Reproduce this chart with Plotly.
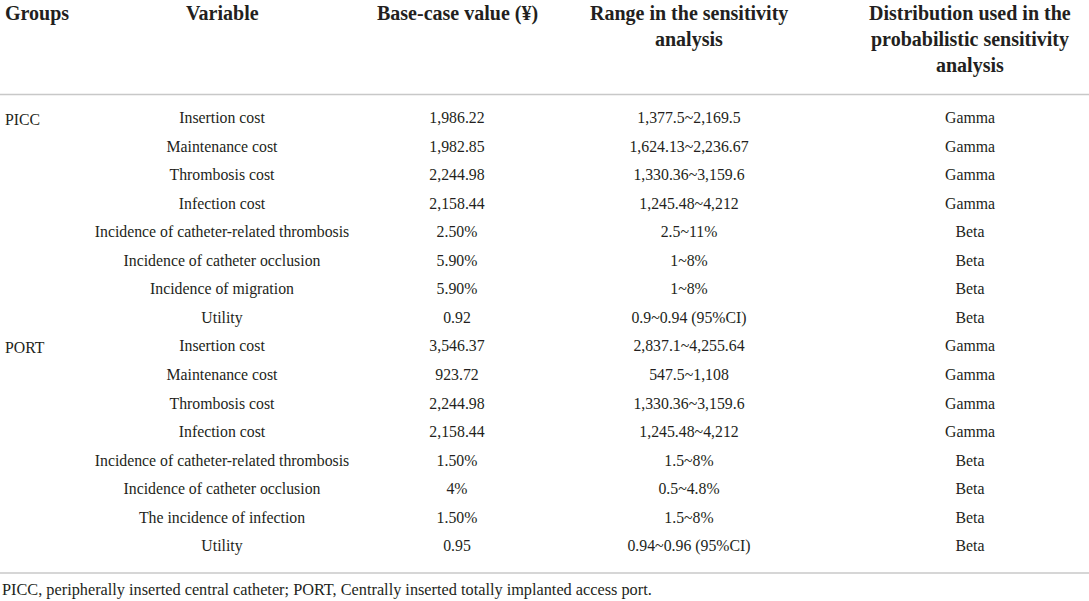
import plotly.graph_objects as go

# table content
header_groups = ["Groups"]
header_variable = ["Variable"]
header_base = ["Base-case value (¥)"]
header_range = ["Range in the sensitivity", "analysis"]
header_dist = ["Distribution used in the", "probabilistic sensitivity", "analysis"]

groups = ["PICC", "", "", "", "", "", "", "",
          "PORT", "", "", "", "", "", "", ""]
variables = [
    "Insertion cost", "Maintenance cost", "Thrombosis cost", "Infection cost",
    "Incidence of catheter-related thrombosis", "Incidence of catheter occlusion",
    "Incidence of migration", "Utility",
    "Insertion cost", "Maintenance cost", "Thrombosis cost", "Infection cost",
    "Incidence of catheter-related thrombosis", "Incidence of catheter occlusion",
    "The incidence of infection", "Utility",
]
base_values = [
    "1,986.22", "1,982.85", "2,244.98", "2,158.44", "2.50%", "5.90%", "5.90%", "0.92",
    "3,546.37", "923.72", "2,244.98", "2,158.44", "1.50%", "4%", "1.50%", "0.95",
]
ranges = [
    "1,377.5~2,169.5", "1,624.13~2,236.67", "1,330.36~3,159.6", "1,245.48~4,212",
    "2.5~11%", "1~8%", "1~8%", "0.9~0.94 (95%CI)",
    "2,837.1~4,255.64", "547.5~1,108", "1,330.36~3,159.6", "1,245.48~4,212",
    "1.5~8%", "0.5~4.8%", "1.5~8%", "0.94~0.96 (95%CI)",
]
distributions = ["Gamma"] * 4 + ["Beta"] * 4 + ["Gamma"] * 4 + ["Beta"] * 4

footnote = ("PICC, peripherally inserted central catheter; "
            "PORT, Centrally inserted totally implanted access port.")

# layout (pixel coordinates on hidden axes)
W, H = 1089, 601
FONT = "Liberation Serif"
TXT = "#231f20"
col_x = {"variable": 222, "base": 457, "range": 689, "dist": 970}
group_x = 3
row_top, row_h = 119, 28.57
head_top, head_h = 13, 26
rows_y = [row_top + i * row_h for i in range(len(variables))]

fig = go.Figure()

body_cols = [("variable", variables), ("base", base_values),
             ("range", ranges), ("dist", distributions)]
for key, vals in body_cols:
    fig.add_trace(go.Scatter(
        x=[col_x[key]] * len(vals), y=rows_y, text=vals,
        mode="text", textposition="middle center",
        textfont=dict(family=FONT, size=15.8, color=TXT),
        hoverinfo="skip", showlegend=False,
    ))

annotations = []
for g, y in zip(groups, rows_y):
    if g:
        annotations.append(dict(x=group_x, y=y, text=g, xanchor="left",
                                yanchor="middle", showarrow=False,
                                font=dict(family=FONT, size=15.8, color=TXT)))

headers = [(group_x, "left", header_groups), (col_x["variable"], "center", header_variable),
           (col_x["base"], "center", header_base), (col_x["range"], "center", header_range),
           (col_x["dist"], "center", header_dist)]
for x, anchor, lines in headers:
    for i, line in enumerate(lines):
        annotations.append(dict(x=x, y=head_top + i * head_h, text="<b>%s</b>" % line,
                                xanchor=anchor, yanchor="middle", showarrow=False,
                                font=dict(family=FONT, size=20, color=TXT)))

annotations.append(dict(x=0, y=589, text=footnote, xanchor="left", yanchor="middle",
                        showarrow=False, font=dict(family=FONT, size=16.3, color=TXT)))

# rules
shapes = [dict(type="line", x0=0, x1=W, y0=y, y1=y, xref="x", yref="y",
               line=dict(color="#c8c8c8", width=1.5)) for y in (94.5, 573)]

fig.update_layout(
    width=W, height=H,
    margin=dict(l=0, r=0, t=0, b=0),
    paper_bgcolor="white", plot_bgcolor="white",
    xaxis=dict(range=[0, W], visible=False, fixedrange=True),
    yaxis=dict(range=[H, 0], visible=False, fixedrange=True),
    annotations=annotations, shapes=shapes,
)

fig.write_html("out.html", config={"displayModeBar": False},
               post_script="document.body.style.margin='0';")
